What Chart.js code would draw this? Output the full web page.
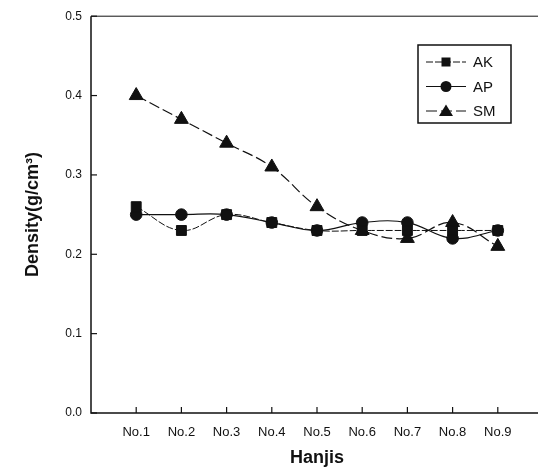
<!DOCTYPE html>
<html>
<head>
<meta charset="utf-8">
<script src="https://cdn.jsdelivr.net/npm/chart.js@4.4.0/dist/chart.umd.min.js"></script>
<style>
  html, body { margin: 0; padding: 0; background: #fff; overflow: hidden; }
  #wrap { width: 552px; height: 472px; }
</style>
</head>
<body>
<div id="wrap"><canvas id="c" width="552" height="472"></canvas></div>
<script>
const categories = ['No.1','No.2','No.3','No.4','No.5','No.6','No.7','No.8','No.9'];
const akValues = [0.26, 0.23, 0.25, 0.24, 0.23, 0.23, 0.23, 0.23, 0.23];
const apValues = [0.25, 0.25, 0.25, 0.24, 0.23, 0.24, 0.24, 0.22, 0.23];
const smValues = [0.40, 0.37, 0.34, 0.31, 0.26, 0.23, 0.22, 0.24, 0.21];
const yTicks = [0.0, 0.1, 0.2, 0.3, 0.4, 0.5];

const toPts = arr => arr.map((v, i) => ({ x: i + 1, y: v }));
const INK = '#111';

const datasets = [
  { label: 'AK', data: toPts(akValues), pointStyle: 'rect', pointRadius: 7, borderDash: [7, 2], borderWidth: 1 },
  { label: 'AP', data: toPts(apValues), pointStyle: 'circle', pointRadius: 5.8, borderDash: [], borderWidth: 1.2 },
  { label: 'SM', data: toPts(smValues), pointStyle: 'triangle', pointRadius: 8, borderDash: [11, 4], borderWidth: 1.2 }
].map(d => Object.assign({
  borderColor: INK, backgroundColor: INK, pointBackgroundColor: INK, pointBorderColor: INK,
  pointBorderWidth: 1, tension: 0.4, fill: false
}, d));

const framePlugin = {
  id: 'frame',
  afterDraw(chart) {
    const { ctx, chartArea: a, scales } = chart;
    ctx.save();
    ctx.strokeStyle = INK;
    ctx.setLineDash([]);
    ctx.lineWidth = 1.5;
    ctx.beginPath();
    ctx.moveTo(a.left, a.top); ctx.lineTo(a.left, a.bottom); ctx.lineTo(a.right, a.bottom);
    ctx.stroke();
    ctx.lineWidth = 1;
    ctx.beginPath();
    ctx.moveTo(a.left, a.top); ctx.lineTo(a.right, a.top);
    ctx.stroke();
    // inward ticks
    ctx.lineWidth = 1.2;
    yTicks.forEach(v => {
      const y = scales.y.getPixelForValue(v);
      ctx.beginPath(); ctx.moveTo(a.left, y); ctx.lineTo(a.left + 6, y); ctx.stroke();
    });
    categories.forEach((c, i) => {
      const x = scales.x.getPixelForValue(i + 1);
      ctx.beginPath(); ctx.moveTo(x, a.bottom); ctx.lineTo(x, a.bottom - 6); ctx.stroke();
    });
    // legend box
    const bx = 418, by = 45, bw = 93, bh = 78;
    ctx.lineWidth = 1.5;
    ctx.strokeRect(bx, by, bw, bh);
    chart.data.datasets.forEach((d, i) => {
      const y = by + 17 + i * 24.5;
      ctx.lineWidth = 1;
      ctx.setLineDash(d.borderDash || []);
      ctx.beginPath(); ctx.moveTo(bx + 8, y); ctx.lineTo(bx + 48, y); ctx.stroke();
      ctx.setLineDash([]);
      ctx.fillStyle = INK;
      const mx = bx + 28;
      if (d.pointStyle === 'rect') {
        ctx.fillRect(mx - 4.5, y - 4.5, 9, 9);
      } else if (d.pointStyle === 'circle') {
        ctx.beginPath(); ctx.arc(mx, y, 5.5, 0, Math.PI * 2); ctx.fill();
      } else {
        ctx.beginPath(); ctx.moveTo(mx, y - 6.5); ctx.lineTo(mx + 7, y + 5); ctx.lineTo(mx - 7, y + 5); ctx.closePath(); ctx.fill();
      }
      ctx.font = '15px "Liberation Sans", Arial, sans-serif';
      ctx.textBaseline = 'middle';
      ctx.textAlign = 'left';
      ctx.fillText(d.label, bx + 55, y + 1);
    });
    ctx.restore();
  }
};

new Chart(document.getElementById('c'), {
  type: 'line',
  data: { datasets },
  options: {
    responsive: false,
    animation: false,
    layout: { padding: { left: 22, right: 5, top: 16, bottom: 0 } },
    plugins: { legend: { display: false }, tooltip: { enabled: false } },
    scales: {
      x: {
        type: 'linear', min: 0, max: 10,
        grid: { display: false, drawTicks: false },
        border: { display: false },
        afterBuildTicks(s) { s.ticks = categories.map((c, i) => ({ value: i + 1 })); },
        afterFit(s) { s.height = 59; },
        ticks: {
          autoSkip: false, maxRotation: 0, padding: 12, color: INK,
          font: { family: '"Liberation Sans", Arial, sans-serif', size: 13 },
          callback: v => categories[v - 1] || ''
        },
        title: {
          display: true, text: 'Hanjis', color: INK,
          font: { family: '"Liberation Sans", Arial, sans-serif', size: 18, weight: 'bold' },
          padding: { top: 4, bottom: 3 }
        }
      },
      y: {
        min: 0, max: 0.5,
        grid: { display: false, drawTicks: false },
        border: { display: false },
        afterBuildTicks(s) { s.ticks = yTicks.map(v => ({ value: v })); },
        afterFit(s) { s.width = 69; },
        ticks: {
          padding: 9, color: INK,
          font: { family: '"Liberation Sans", Arial, sans-serif', size: 12 },
          callback: v => Number(v).toFixed(1)
        },
        title: {
          display: true, text: 'Density(g/cm³)', color: INK,
          font: { family: '"Liberation Sans", Arial, sans-serif', size: 18, weight: 'bold' },
          padding: { top: 0, bottom: 4 }
        }
      }
    }
  },
  plugins: [framePlugin]
});
</script>
</body>
</html>
